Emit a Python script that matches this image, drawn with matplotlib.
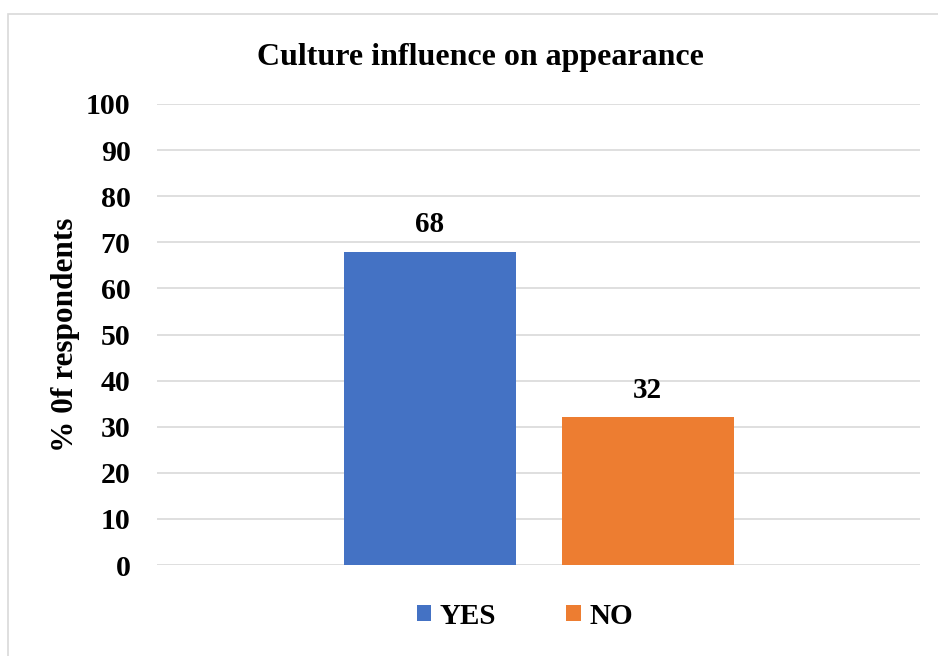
import matplotlib.pyplot as plt
from matplotlib.patches import Rectangle

plt.rcParams['font.family'] = ['Liberation Serif', 'DejaVu Serif']
plt.rcParams['font.weight'] = 'bold'

answers = ['YES', 'NO']
percent = [68, 32]
colors = ['#4472C4', '#ED7D31']
yticks = list(range(0, 101, 10))

W, H = 938, 656
fig = plt.figure(figsize=(W / 100, H / 100), dpi=100)
ax = fig.add_axes([157 / W, 1 - 565 / H, (920 - 157) / W, (565 - 104) / H])

# light frame around the chart area
fig.patches.append(Rectangle((8 / W, -0.05), 1.2, 1 - 14 / H + 0.05, transform=fig.transFigure,
                             fill=False, edgecolor='#d9d9d9', linewidth=1.2))

step = 218 / 763
width = 172 / 763
for i, (lab, val, col) in enumerate(zip(answers, percent, colors)):
    x = (i - 0.5) * step
    ax.bar(x, val, width=width, color=col, label=lab, zorder=3)
    ax.text(x, val + 5.8, str(val), ha='center', va='center', fontsize=21, fontweight='bold')

ax.set_xlim(-0.5, 0.5)
ax.set_ylim(0, 100)
ax.set_yticks(yticks)
ax.set_yticklabels([str(t) for t in yticks], fontsize=21.5, fontweight='bold')
ax.tick_params(axis='y', length=0, pad=19)
ax.set_xticks([])
ax.grid(axis='y', color='#d9d9d9', linewidth=1.2, zorder=0)
for s in ax.spines.values():
    s.set_visible(False)

ax.set_ylabel('% 0f respondents', fontsize=22.5, fontweight='bold')
ax.yaxis.set_label_coords(-0.101, 0.5)

fig.text(480 / W, 1 - 57 / H, 'Culture influence on appearance', ha='center', va='center',
         fontsize=23, fontweight='bold')

fig.legend(loc='center', bbox_to_anchor=(525 / W, 1 - 616 / H), ncol=2, frameon=False,
           handlelength=0.5, handleheight=0.5, handletextpad=0.3,
           columnspacing=2.4, prop={'weight': 'bold', 'size': 21})

fig.savefig('out.png', dpi=100)
